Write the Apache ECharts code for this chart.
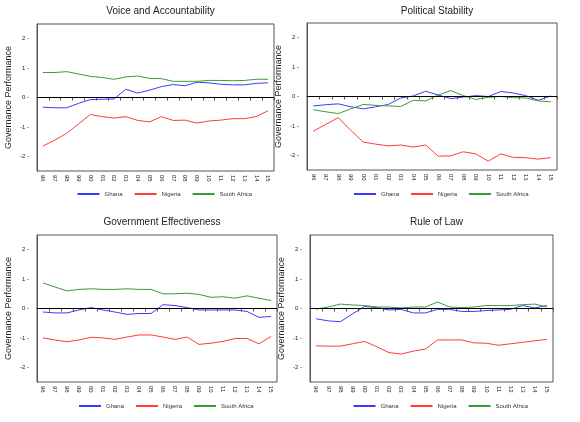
<!DOCTYPE html>
<html><head><meta charset="utf-8">
<script src="https://cdn.jsdelivr.net/npm/echarts@6/dist/echarts.min.js"></script>
<style>html,body{margin:0;padding:0;background:#fff}#c{width:580px;height:422px}</style>
</head><body><div id="c"></div>
<script>
const years = ['96','97','98','99','00','01','02','03','04','05','06','07','08','09','10','11','12','13','14','15'];
const titles = ['Voice and Accountability','Political Stability','Government Effectiveness','Rule of Law'];
const yTicks = [-2,-1,0,1,2];
const vaGhana = [-0.33,-0.35,-0.35,-0.2,-0.07,-0.06,-0.05,0.28,0.15,0.25,0.37,0.44,0.40,0.52,0.50,0.45,0.43,0.43,0.48,0.50];
const vaNigeria = [-1.65,-1.45,-1.22,-0.9,-0.58,-0.65,-0.7,-0.65,-0.78,-0.83,-0.65,-0.78,-0.77,-0.87,-0.8,-0.77,-0.72,-0.72,-0.65,-0.45];
const vaSA = [0.85,0.85,0.88,0.80,0.72,0.68,0.62,0.70,0.73,0.65,0.64,0.55,0.55,0.55,0.58,0.58,0.57,0.58,0.62,0.62];
const psGhana = [-0.32,-0.28,-0.25,-0.35,-0.42,-0.35,-0.27,-0.05,0.02,0.18,0.05,-0.07,-0.02,0.03,0.0,0.17,0.12,0.03,-0.13,0.02];
const psNigeria = [-1.18,-0.95,-0.72,-1.15,-1.55,-1.62,-1.68,-1.65,-1.72,-1.65,-2.03,-2.02,-1.88,-1.95,-2.2,-1.95,-2.07,-2.08,-2.13,-2.08];
const psSA = [-0.45,-0.52,-0.58,-0.42,-0.27,-0.3,-0.32,-0.34,-0.13,-0.15,0.05,0.2,0.03,-0.1,-0.03,0.0,-0.04,-0.05,-0.15,-0.18];
const geGhana = [-0.12,-0.15,-0.15,-0.05,0.03,-0.05,-0.12,-0.2,-0.17,-0.17,0.13,0.1,0.03,-0.05,-0.05,-0.05,-0.05,-0.1,-0.3,-0.27];
const geNigeria = [-1.0,-1.07,-1.13,-1.07,-0.98,-1.0,-1.05,-0.97,-0.9,-0.9,-0.97,-1.05,-0.97,-1.22,-1.18,-1.12,-1.02,-1.02,-1.2,-0.95];
const geSA = [0.87,0.73,0.6,0.65,0.67,0.65,0.65,0.67,0.65,0.65,0.5,0.5,0.52,0.48,0.38,0.4,0.35,0.43,0.35,0.27];
const rlGhana = [-0.35,-0.42,-0.45,-0.18,0.07,0.03,-0.05,-0.03,-0.15,-0.15,-0.03,-0.03,-0.1,-0.1,-0.07,-0.05,-0.03,0.1,0.02,0.1];
const rlNigeria = [-1.27,-1.28,-1.28,-1.2,-1.12,-1.3,-1.5,-1.55,-1.45,-1.38,-1.07,-1.07,-1.07,-1.17,-1.18,-1.25,-1.2,-1.15,-1.1,-1.05];
const rlSA = [-0.02,0.05,0.15,0.12,0.1,0.05,0.05,0.02,0.05,0.05,0.22,0.05,0.03,0.05,0.1,0.1,0.1,0.13,0.15,0.05];
const panels = [[vaGhana,vaNigeria,vaSA],[psGhana,psNigeria,psSA],[geGhana,geNigeria,geSA],[rlGhana,rlNigeria,rlSA]];
const names = ['Ghana','Nigeria','South Africa'];
const colors = ['#3b3bff','#ff3b3b','#3a9a3a'];
const boxes = [{l:37,r:274,t:24,b:171},{l:307,r:557,t:23,b:170},{l:37,r:277,t:235,b:382},{l:310,r:553,t:235,b:382}];
const option = {animation:false, title:[], legend:[], grid:[], xAxis:[], yAxis:[], series:[]};
boxes.forEach((b,i)=>{
  const cx=(b.l+b.r)/2;
  option.title.push({text:titles[i],left:cx,top:i<2?1:212,textAlign:'center',textStyle:{fontSize:10,fontWeight:'normal',color:'#222',fontFamily:'Arial'}});
  option.legend.push({data:names,left:cx-78,top:i<2?191:403,width:260,orient:'horizontal',padding:0,itemWidth:22,itemHeight:2,icon:'rect',itemGap:12,textStyle:{fontSize:6,color:'#333'},selectedMode:false});
  option.grid.push({left:b.l,top:b.t,width:b.r-b.l,height:b.b-b.t,show:true,borderColor:'#555',borderWidth:1});
  option.xAxis.push({type:'category',gridIndex:i,data:years,boundaryGap:true,axisLine:{lineStyle:{color:'#555'}},axisTick:{show:true,length:3,lineStyle:{color:'#555'}},axisLabel:{rotate:-90,fontSize:6,color:'#222',interval:0,margin:4}});
  option.yAxis.push({type:'value',gridIndex:i,min:-2.5,max:2.5,interval:0.5,name:'Governance Performance',nameLocation:'middle',nameGap:24,nameTextStyle:{fontSize:9,color:'#222'},
    axisLine:{show:true,lineStyle:{color:'#555'}},axisTick:{show:false},splitLine:{show:false},
    axisLabel:{fontSize:6,color:'#222',formatter:v=>yTicks.includes(v)?v+' -':''}});
  panels[i].forEach((d,k)=>{
    const s={type:'line',name:names[k],xAxisIndex:i,yAxisIndex:i,data:d,showSymbol:false,lineStyle:{width:1,color:colors[k]},itemStyle:{color:colors[k]}};
    if(k===0) s.markLine={silent:true,symbol:'none',label:{show:false},lineStyle:{color:'#000',type:'solid',width:1},data:[{yAxis:0}]};
    option.series.push(s);
  });
});
echarts.init(document.getElementById('c')).setOption(option);
</script></body></html>
